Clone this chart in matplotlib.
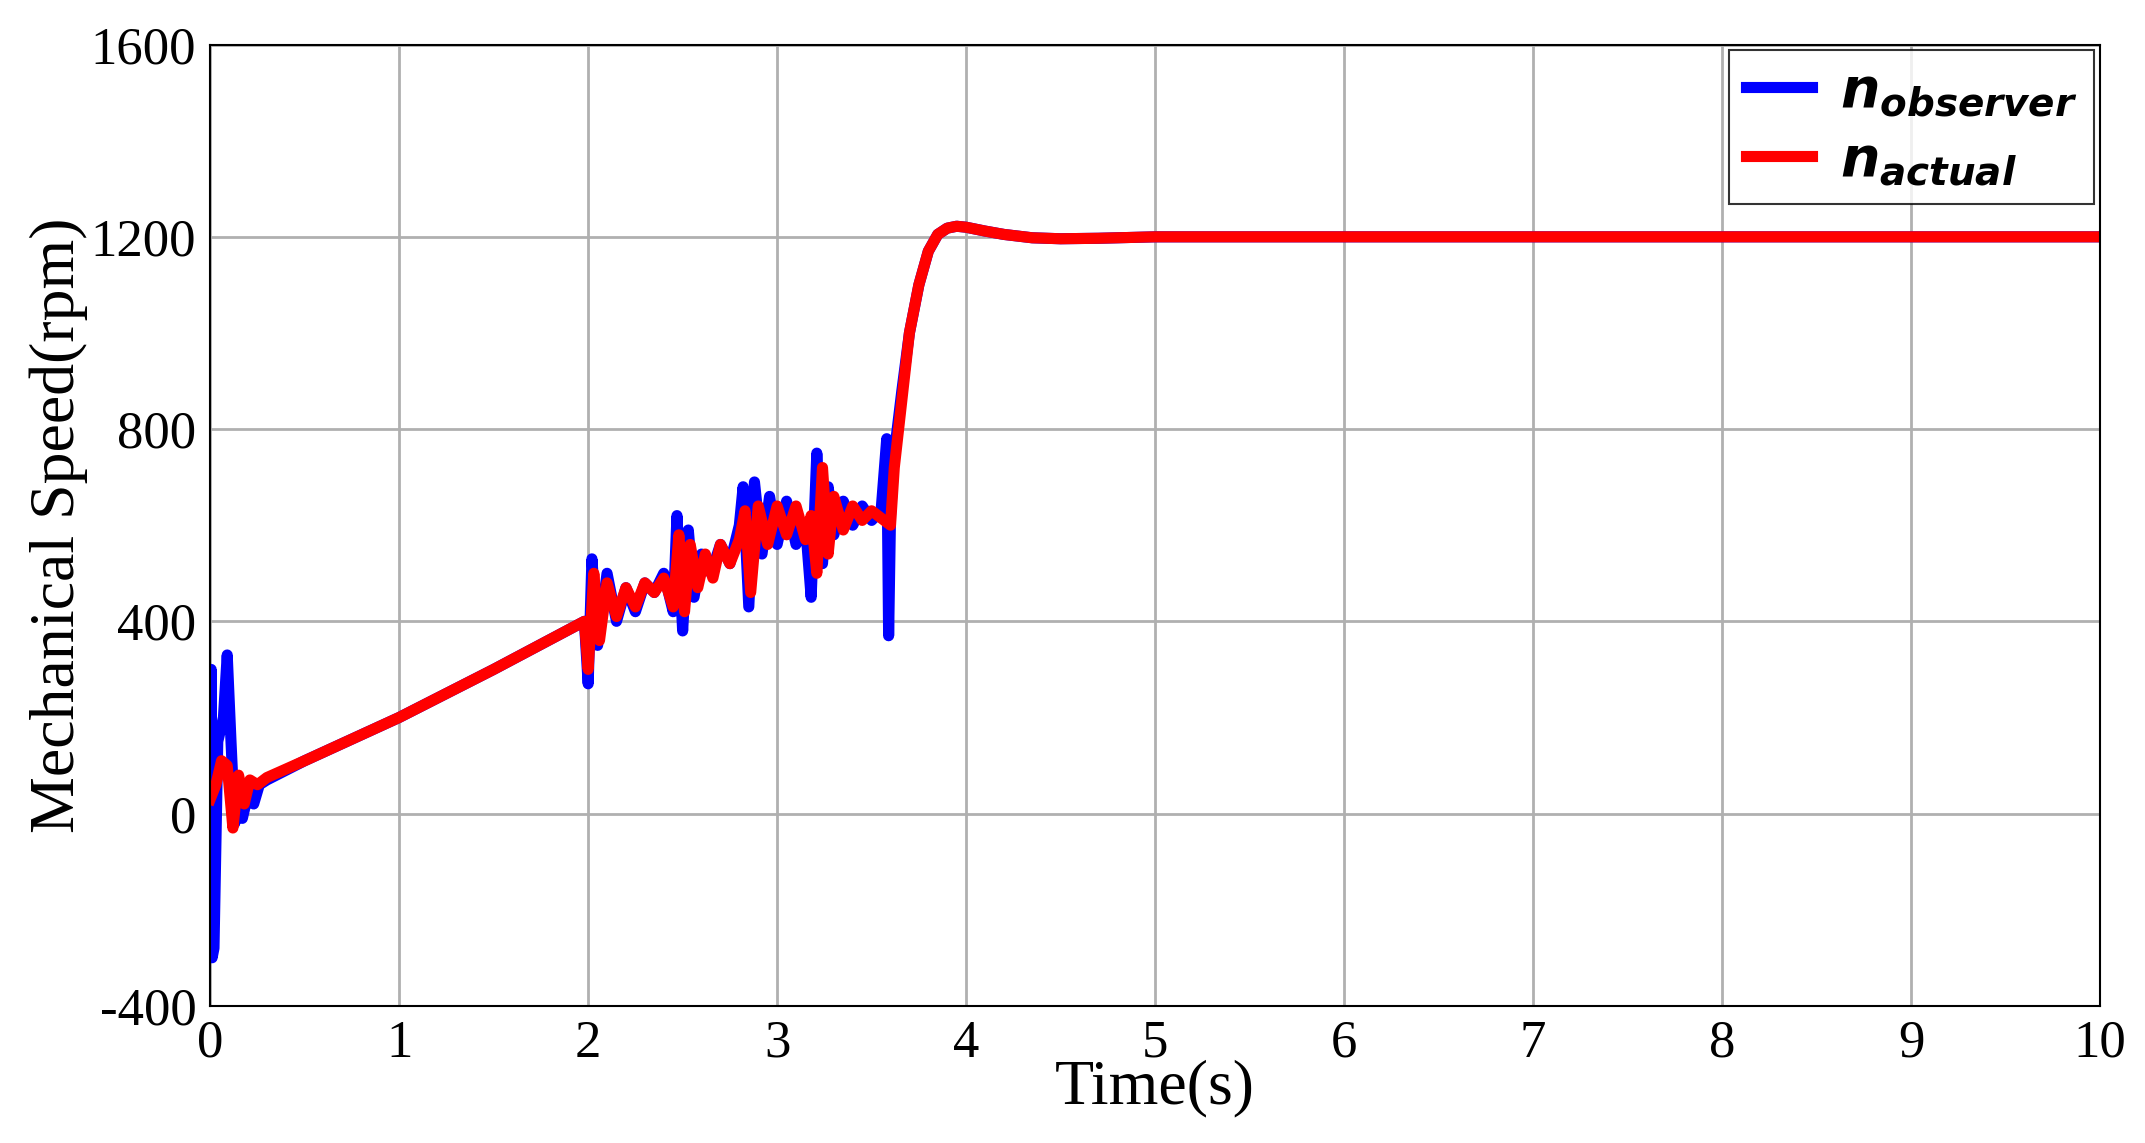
import matplotlib.pyplot as plt

# observer speed (blue)
t_obs = [0, 0.005, 0.01, 0.02, 0.04, 0.07, 0.09, 0.11, 0.13, 0.15, 0.17, 0.2, 0.23, 0.26, 0.3, 0.5, 1.0, 1.5, 1.98,
         2.0, 2.02, 2.05, 2.1, 2.15, 2.2, 2.25, 2.3, 2.35, 2.4, 2.45, 2.47, 2.5, 2.53, 2.56, 2.6, 2.65, 2.7, 2.75, 2.8,
         2.82, 2.85, 2.88, 2.92, 2.96, 3.0, 3.05, 3.1, 3.15, 3.18, 3.21, 3.24, 3.27, 3.3, 3.35, 3.4, 3.45, 3.5, 3.55,
         3.58, 3.59, 3.6, 3.62, 3.66, 3.7, 3.75, 3.8, 3.85, 3.9, 3.95, 4.0, 4.1, 4.2, 4.35, 4.5, 4.7, 5.0, 10.0]
n_obs = [0, 300, -300, -280, 150, 200, 330, 150, -20, 60, -10, 40, 20, 60, 70, 110, 200, 300, 400,
         270, 530, 350, 500, 400, 470, 420, 480, 460, 500, 420, 620, 380, 590, 450, 540, 500, 560, 520, 600,
         680, 430, 690, 540, 660, 560, 650, 560, 600, 450, 750, 520, 680, 580, 650, 600, 640, 610, 630,
         780, 370, 620, 750, 880, 1000, 1100, 1170, 1205, 1218, 1222, 1220, 1212, 1205, 1198, 1196, 1197, 1200, 1200]

# actual speed (red)
t_act = [0, 0.03, 0.06, 0.09, 0.12, 0.15, 0.18, 0.21, 0.25, 0.3, 0.5, 1.0, 1.5, 1.98,
         2.0, 2.03, 2.06, 2.1, 2.15, 2.2, 2.25, 2.3, 2.35, 2.4, 2.45, 2.48, 2.51, 2.54, 2.58, 2.62, 2.66, 2.7, 2.75, 2.8,
         2.83, 2.86, 2.9, 2.95, 3.0, 3.05, 3.1, 3.15, 3.18, 3.21, 3.24, 3.27, 3.3, 3.35, 3.4, 3.45, 3.5, 3.55, 3.6,
         3.62, 3.66, 3.7, 3.75, 3.8, 3.85, 3.9, 3.95, 4.0, 4.1, 4.2, 4.35, 4.5, 4.7, 5.0, 10.0]
n_act = [30, 60, 110, 100, -30, 80, 20, 70, 60, 75, 110, 200, 300, 400,
         300, 500, 360, 480, 410, 470, 430, 480, 460, 490, 430, 580, 420, 560, 470, 540, 490, 560, 520, 570,
         630, 460, 640, 560, 640, 580, 640, 570, 620, 500, 720, 540, 660, 590, 640, 610, 630, 615, 600,
         720, 860, 1000, 1100, 1170, 1205, 1218, 1222, 1220, 1212, 1205, 1198, 1196, 1197, 1200, 1200]

x_ticks = list(range(0, 11))
y_ticks = [-400, 0, 400, 800, 1200, 1600]

plt.rcParams['font.family'] = ['Liberation Serif', 'DejaVu Serif']
plt.rcParams['mathtext.fontset'] = 'custom'
plt.rcParams['mathtext.it'] = 'DejaVu Sans:italic:bold'
plt.rcParams['mathtext.rm'] = 'DejaVu Sans:bold'
plt.rcParams['axes.unicode_minus'] = False

fig = plt.figure(figsize=(21.45, 11.43), dpi=100)
ax = fig.add_axes([0.098, 0.12, 0.881, 0.841])
ax.plot(t_obs, n_obs, color='#0000ff', lw=8, label=r'$n_{observer}$')
ax.plot(t_act, n_act, color='#ff0000', lw=8, label=r'$n_{actual}$')
ax.set_xlim(0, 10)
ax.set_ylim(-400, 1600)
ax.set_xticks(x_ticks)
ax.set_yticks(y_ticks)
ax.tick_params(labelsize=38, direction='in', length=0, pad=10)
ax.grid(True, color='#b0b0b0', lw=2)
ax.set_xlabel('Time(s)', fontsize=46, labelpad=-6)
ax.set_ylabel('Mechanical Speed(rpm)', fontsize=46, labelpad=2)
for s in ax.spines.values():
    s.set_linewidth(1.5)
leg = ax.legend(loc='upper right', fontsize=40, fancybox=False, edgecolor='black',
                borderaxespad=0.1, handlelength=1.2, labelspacing=0.3, borderpad=0.3,
                handletextpad=0.5)
leg.get_frame().set_linewidth(1.5)
fig.savefig('out.png')
